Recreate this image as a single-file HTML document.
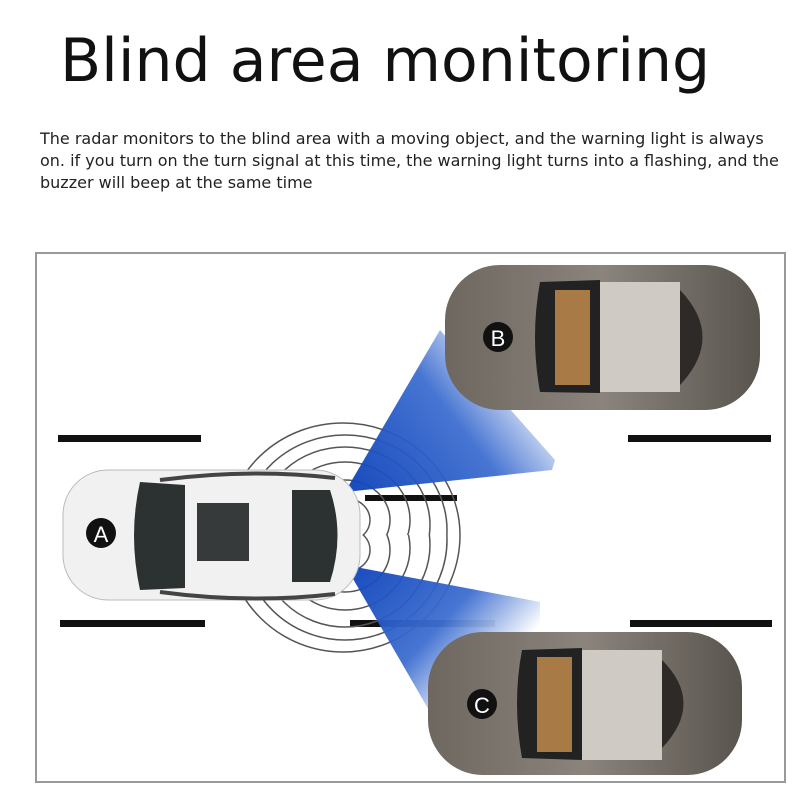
<!DOCTYPE html>
<html><head><meta charset="utf-8"><style>
body{margin:0;width:800px;height:800px;background:#fff;overflow:hidden;font-family:"Liberation Sans",sans-serif}
h1{position:absolute;left:60px;top:26px;margin:0;font-weight:400;font-size:60px;color:#111;font-family:"DejaVu Sans","Liberation Sans",sans-serif}
p{position:absolute;left:40px;top:128px;width:750px;margin:0;font-size:16px;line-height:22px;color:#222;font-family:"DejaVu Sans","Liberation Sans",sans-serif}
svg{position:absolute;left:0;top:0}
</style></head><body>
<h1>Blind area monitoring</h1>
<p>The radar monitors to the blind area with a moving object, and the warning light is always on. if you turn on the turn signal at this time, the warning light turns into a flashing, and the buzzer will beep at the same time</p>
<svg width="800" height="800">
<defs>
<linearGradient id="bt" x1="345" y1="495" x2="520" y2="360" gradientUnits="userSpaceOnUse"><stop offset="0" stop-color="#0a3fb8"/><stop offset="0.6" stop-color="#3d6ed0"/><stop offset="1" stop-color="#fff"/></linearGradient>
<linearGradient id="bb" x1="345" y1="565" x2="480" y2="690" gradientUnits="userSpaceOnUse"><stop offset="0" stop-color="#0a3fb8"/><stop offset="0.6" stop-color="#3d6ed0"/><stop offset="1" stop-color="#fff"/></linearGradient>
<linearGradient id="gc" x1="0" y1="0" x2="1" y2="0"><stop offset="0" stop-color="#6e6760"/><stop offset="0.5" stop-color="#8a847d"/><stop offset="1" stop-color="#5a544e"/></linearGradient>
<clipPath id="ct"><rect x="0" y="0" width="800" height="535"/></clipPath>
<clipPath id="cb"><rect x="0" y="535" width="800" height="300"/></clipPath>
</defs>
<rect x="36" y="253" width="749" height="529" fill="none" stroke="#999" stroke-width="2"/>
<g fill="#111">
<rect x="58" y="435" width="143" height="7"/><rect x="628" y="435" width="143" height="7"/>
<rect x="365" y="495" width="92" height="6"/>
<rect x="60" y="620" width="145" height="7"/><rect x="350" y="620" width="145" height="7"/><rect x="630" y="620" width="142" height="7"/>
</g>
<g fill="none" stroke="#555" stroke-width="1.5" clip-path="url(#ct)">
<ellipse cx="345" cy="520" rx="25" ry="22"/><ellipse cx="345" cy="520" rx="45" ry="40"/>
<ellipse cx="345" cy="520" rx="65" ry="58"/><ellipse cx="345" cy="525" rx="85" ry="78"/>
<ellipse cx="345" cy="530" rx="102" ry="95"/><ellipse cx="343" cy="535" rx="117" ry="112"/>
</g>
<g fill="none" stroke="#555" stroke-width="1.5" clip-path="url(#cb)">
<ellipse cx="345" cy="550" rx="25" ry="22"/><ellipse cx="345" cy="550" rx="45" ry="42"/>
<ellipse cx="345" cy="548" rx="65" ry="62"/><ellipse cx="345" cy="545" rx="85" ry="82"/>
<ellipse cx="345" cy="540" rx="102" ry="100"/><ellipse cx="343" cy="535" rx="117" ry="117"/>
</g>
<polygon points="345,492 440,330 555,460 552,470" fill="url(#bt)" opacity="0.95"/>
<polygon points="345,565 540,602 540,660 430,712" fill="url(#bb)" opacity="0.95"/>
<rect x="63" y="470" width="297" height="130" rx="45" fill="#f1f1f1" stroke="#bbb"/>
<path d="M140 482 L185 485 L185 588 L140 590 Q128 535 140 482Z" fill="#2c3131"/>
<path d="M292 490 L330 490 Q345 535 330 582 L292 582Z" fill="#2c3131"/>
<rect x="197" y="503" width="52" height="58" fill="#363a3a"/>
<path d="M160 480 Q250 468 335 478" stroke="#444" stroke-width="4" fill="none"/>
<path d="M160 592 Q250 604 335 594" stroke="#444" stroke-width="4" fill="none"/>
<circle cx="101" cy="533" r="15" fill="#111"/><text x="101" y="542" font-size="22" fill="#fff" text-anchor="middle" font-family="Liberation Sans">A</text>
<rect x="445" y="265" width="315" height="145" rx="55" fill="url(#gc)"/>
<path d="M540 282 L600 280 L600 393 L540 392 Q530 337 540 282Z" fill="#222"/>
<rect x="555" y="290" width="35" height="95" fill="#a87a45"/>
<rect x="600" y="282" width="80" height="110" fill="#cfcac4"/>
<path d="M680 290 Q725 337 680 385Z" fill="#2d2a27"/>
<circle cx="498" cy="337" r="15" fill="#111"/><text x="498" y="346" font-size="22" fill="#fff" text-anchor="middle" font-family="Liberation Sans">B</text>
<rect x="428" y="632" width="314" height="143" rx="55" fill="url(#gc)"/>
<path d="M522 650 L582 648 L582 760 L522 758 Q512 703 522 650Z" fill="#222"/>
<rect x="537" y="657" width="35" height="95" fill="#a87a45"/>
<rect x="582" y="650" width="80" height="110" fill="#cfcac4"/>
<path d="M662 660 Q705 703 662 748Z" fill="#2d2a27"/>
<circle cx="482" cy="704" r="15" fill="#111"/><text x="482" y="713" font-size="22" fill="#fff" text-anchor="middle" font-family="Liberation Sans">C</text>
</svg>
</body></html>
